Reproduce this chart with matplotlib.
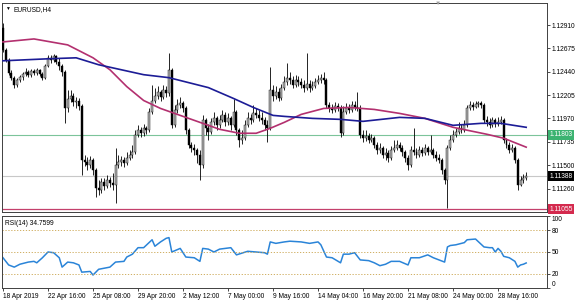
import numpy as np
import matplotlib
matplotlib.use('Agg')
import matplotlib.pyplot as plt
import matplotlib.transforms as mtransforms

# EURUSD H4 bars, 18 Apr 2019 00:00 onwards (open of each bar = previous close)
first_open = 1.1288
close = [1.1266, 1.1256, 1.1243, 1.1238, 1.1231, 1.1236, 1.1239, 1.1242, 1.1244, 1.1241,
         1.1245, 1.1243, 1.1246, 1.1242, 1.1238, 1.1250, 1.1258, 1.1256, 1.1260, 1.1254,
         1.1250, 1.1244, 1.1207, 1.1217, 1.1220, 1.1213, 1.1215, 1.1209, 1.1155, 1.1153,
         1.1150, 1.1155, 1.1145, 1.1127, 1.1125, 1.1133, 1.1129, 1.1135, 1.1132, 1.1130,
         1.1150, 1.1153, 1.1155, 1.1152, 1.1157, 1.1160, 1.1163, 1.1180, 1.1185, 1.1182,
         1.1187, 1.1185, 1.1203, 1.1215, 1.1220, 1.1224, 1.1219, 1.1226, 1.1223, 1.1246,
         1.1190, 1.1205, 1.1210, 1.1212, 1.1207, 1.1185, 1.1170, 1.1167, 1.1165, 1.1160,
         1.1150, 1.1195, 1.1187, 1.1183, 1.1193, 1.1197, 1.1190, 1.1195, 1.1200, 1.1193,
         1.1197, 1.1190, 1.1203, 1.1185, 1.1175, 1.1177, 1.1190, 1.1197, 1.1195, 1.1202,
         1.1200, 1.1197, 1.1195, 1.1190, 1.1187, 1.1226, 1.1220, 1.1224, 1.1218, 1.1228,
         1.1234, 1.1238, 1.1236, 1.1231, 1.1236, 1.1234, 1.1231, 1.1228, 1.1232, 1.1228,
         1.1230, 1.1234, 1.1236, 1.1238, 1.1236, 1.1210, 1.1207, 1.1205, 1.1209, 1.1207,
         1.1182, 1.1203, 1.1207, 1.1205, 1.1210, 1.1208, 1.1207, 1.1180, 1.1177, 1.1179,
         1.1175, 1.1177, 1.1170, 1.1165, 1.1167, 1.1160, 1.1162, 1.1157, 1.1165, 1.1167,
         1.1170, 1.1167, 1.1163, 1.1157, 1.1150, 1.1165, 1.1163, 1.1160, 1.1165, 1.1162,
         1.1167, 1.1163, 1.1165, 1.1160, 1.1157, 1.1155, 1.1145, 1.1135, 1.1167, 1.1175,
         1.1180, 1.1183, 1.1187, 1.1185, 1.1190, 1.1207, 1.1210, 1.1208, 1.1211, 1.1212,
         1.1210, 1.1195, 1.1193, 1.1190, 1.1195, 1.1191, 1.1193, 1.1195, 1.1175, 1.1170,
         1.1165, 1.1167, 1.1155, 1.1130, 1.1135, 1.1137, 1.11388]
high = [1.1293, 1.1268, 1.1258, 1.1246, 1.1240, 1.1238, 1.1241, 1.1244, 1.1248, 1.1246,
        1.1247, 1.1247, 1.1248, 1.1247, 1.1244, 1.1252, 1.1261, 1.1261, 1.1262, 1.1261,
        1.1258, 1.1252, 1.1246, 1.1226, 1.1226, 1.1223, 1.1219, 1.1218, 1.1211, 1.1160,
        1.1158, 1.1159, 1.1157, 1.1147, 1.1135, 1.1137, 1.1137, 1.1140, 1.1138, 1.1142,
        1.1167, 1.1160, 1.1159, 1.1158, 1.1163, 1.1165, 1.1170, 1.1185, 1.1190, 1.1188,
        1.1191, 1.1189, 1.1207, 1.1231, 1.1228, 1.1230, 1.1226, 1.1231, 1.1230, 1.1263,
        1.1248, 1.1210, 1.1217, 1.1219, 1.1215, 1.1209, 1.1187, 1.1173, 1.1171, 1.1167,
        1.1165, 1.1200, 1.1197, 1.1191, 1.1197, 1.1203, 1.1199, 1.1200, 1.1205, 1.1203,
        1.1202, 1.1199, 1.1217, 1.1205, 1.1187, 1.1185, 1.1195, 1.1203, 1.1201, 1.1210,
        1.1207, 1.1205, 1.1203, 1.1198, 1.1195, 1.1249, 1.1231, 1.1230, 1.1228, 1.1232,
        1.1240, 1.1253, 1.1244, 1.1240, 1.1241, 1.1240, 1.1238, 1.1236, 1.1263, 1.1236,
        1.1235, 1.1238, 1.1241, 1.1242, 1.1244, 1.1238, 1.1213, 1.1211, 1.1213, 1.1212,
        1.1210, 1.1209, 1.1212, 1.1211, 1.1215, 1.1215, 1.1224, 1.1210, 1.1185, 1.1185,
        1.1182, 1.1181, 1.1179, 1.1173, 1.1172, 1.1169, 1.1167, 1.1165, 1.1169, 1.1175,
        1.1175, 1.1173, 1.1170, 1.1165, 1.1160, 1.1169, 1.1187, 1.1167, 1.1169, 1.1168,
        1.1171, 1.1169, 1.1180, 1.1167, 1.1164, 1.1161, 1.1157, 1.1147, 1.1170, 1.1180,
        1.1185, 1.1187, 1.1193, 1.1191, 1.1195, 1.1210, 1.1214, 1.1213, 1.1215, 1.1214,
        1.1214, 1.1212, 1.1199, 1.1197, 1.1198, 1.1197, 1.1198, 1.1199, 1.1197, 1.1177,
        1.1173, 1.1171, 1.1169, 1.1157, 1.1139, 1.1141, 1.1143]
low = [1.1264, 1.1254, 1.1241, 1.1236, 1.1228, 1.1229, 1.1234, 1.1236, 1.1240, 1.1239,
       1.1239, 1.1241, 1.1241, 1.1240, 1.1236, 1.1237, 1.1249, 1.1253, 1.1254, 1.1252,
       1.1246, 1.1240, 1.1192, 1.1203, 1.1213, 1.1209, 1.1207, 1.1205, 1.1140, 1.1149,
       1.1145, 1.1147, 1.1140, 1.1118, 1.1120, 1.1122, 1.1125, 1.1127, 1.1128, 1.1125,
       1.1112, 1.1147, 1.1149, 1.1148, 1.1150, 1.1155, 1.1157, 1.1161, 1.1178, 1.1178,
       1.1179, 1.1181, 1.1183, 1.1201, 1.1212, 1.1217, 1.1215, 1.1217, 1.1219, 1.1220,
       1.1187, 1.1188, 1.1202, 1.1207, 1.1203, 1.1181, 1.1167, 1.1163, 1.1160, 1.1152,
       1.1135, 1.1147, 1.1180, 1.1175, 1.1181, 1.1190, 1.1185, 1.1187, 1.1193, 1.1189,
       1.1190, 1.1185, 1.1188, 1.1180, 1.1168, 1.1171, 1.1175, 1.1188, 1.1191, 1.1193,
       1.1197, 1.1194, 1.1191, 1.1185, 1.1173, 1.1185, 1.1215, 1.1217, 1.1215, 1.1216,
       1.1226, 1.1231, 1.1232, 1.1228, 1.1229, 1.1230, 1.1228, 1.1224, 1.1226, 1.1224,
       1.1226, 1.1228, 1.1232, 1.1233, 1.1232, 1.1207, 1.1203, 1.1202, 1.1203, 1.1204,
       1.1178, 1.1180, 1.1201, 1.1202, 1.1203, 1.1205, 1.1204, 1.1177, 1.1173, 1.1174,
       1.1172, 1.1173, 1.1167, 1.1161, 1.1162, 1.1157, 1.1155, 1.1153, 1.1155, 1.1163,
       1.1165, 1.1164, 1.1159, 1.1153, 1.1145, 1.1148, 1.1160, 1.1157, 1.1158, 1.1159,
       1.1160, 1.1160, 1.1161, 1.1157, 1.1154, 1.1152, 1.1141, 1.1131, 1.1107, 1.1165,
       1.1173, 1.1178, 1.1181, 1.1182, 1.1183, 1.1188, 1.1205, 1.1205, 1.1207, 1.1208,
       1.1207, 1.1192, 1.1189, 1.1187, 1.1188, 1.1188, 1.1189, 1.1191, 1.1172, 1.1167,
       1.1162, 1.1163, 1.1152, 1.1125, 1.1129, 1.1132, 1.1135]

# moving averages (bar index, price)
ma_slow_idx = [0, 16, 26, 34, 42, 50, 59, 73, 82, 89, 96, 100, 110, 120, 128, 141, 150, 160, 170, 177, 186]
ma_slow = [1.1255, 1.1257, 1.1258, 1.1251, 1.1246, 1.1241, 1.1238, 1.1228, 1.1217, 1.1208,
           1.1200, 1.1199, 1.1197, 1.1196, 1.1194, 1.1198, 1.1197, 1.1190, 1.1192, 1.1192, 1.1188]
ma_fast_idx = [0, 11, 23, 32, 38, 44, 50, 56, 61, 70, 77, 84, 90, 95, 100, 106, 114, 123, 132,
               141, 150, 160, 172, 178, 186]
ma_fast = [1.1274, 1.1277, 1.1271, 1.1258, 1.1246, 1.1229, 1.1215, 1.1207, 1.1202, 1.1193,
           1.1186, 1.1182, 1.1182, 1.1187, 1.1193, 1.1201, 1.1207, 1.1208, 1.1206, 1.1202,
           1.1197, 1.1188, 1.1181, 1.1177, 1.1168]

# RSI(14)
rsi_idx = [0, 2, 4, 6, 9, 11, 12, 14, 16, 18, 20, 21, 23, 25, 27, 28, 31, 32, 34, 38, 40, 43,
           44, 46, 48, 50, 53, 54, 56, 58, 59, 60, 63, 65, 68, 70, 71, 73, 75, 77, 81, 83, 87,
           90, 93, 94, 95, 97, 100, 102, 106, 109, 112, 113, 115, 117, 120, 121, 123, 125, 127,
           130, 132, 134, 136, 138, 141, 144, 145, 148, 151, 153, 155, 157, 158, 159, 161, 164,
           165, 168, 171, 173, 174, 175, 176, 177, 178, 180, 182, 183, 184, 185, 186]
rsi = [42, 32, 29, 33, 36, 37, 35, 42, 50, 49, 42, 29, 36, 35, 32, 22, 23, 18, 26, 29, 36, 37,
       43, 47, 56, 56, 67, 58, 64, 69, 70, 50, 55, 43, 42, 37, 55, 54, 50, 54, 56, 46, 51,
       50, 49, 47, 64, 62, 64, 65, 64, 62, 64, 60, 43, 42, 35, 47, 47, 49, 39,
       38, 35, 31, 33, 37, 37, 32, 42, 42, 46, 42, 39, 36, 57, 59, 60, 63,
       67, 68, 57, 56, 56, 50, 55, 51, 44, 42, 37, 29, 32, 33, 34.76]

level_green = 1.11803
level_last = 1.11388
level_red = 1.11055
price_ticks = [1.12910, 1.12675, 1.12440, 1.12205, 1.11970, 1.11735, 1.11500, 1.11260]
time_tick_idx = [0, 16, 32, 48, 64, 80, 96, 112, 128, 144, 160, 176]
time_labels = ['18 Apr 2019', '22 Apr 16:00', '25 Apr 08:00', '29 Apr 20:00', '2 May 12:00',
               '7 May 00:00', '9 May 16:00', '14 May 04:00', '16 May 20:00', '21 May 08:00',
               '24 May 00:00', '28 May 16:00']

plt.rcParams['font.family'] = ['Liberation Sans', 'DejaVu Sans']
fs = 4.8

fig = plt.figure(figsize=(5.8, 3.02), dpi=100)
ax = fig.add_axes([2 / 580, 1 - 212 / 302, 545 / 580, 209 / 302])
ax2 = fig.add_axes([2 / 580, 1 - 288 / 302, 545 / 580, 72 / 302])

n = len(close)
idx = np.arange(n)
c = np.array(close)
o = np.array([first_open] + close[:-1])
up = c >= o

# candles
ax.vlines(idx, low, high, color='black', lw=0.6, zorder=3)
body_lo = np.minimum(o, c)
body_h = np.maximum(np.abs(c - o), 0.00004)
ax.bar(idx[up], body_h[up], bottom=body_lo[up], width=0.7, color='#b4b4b4',
       edgecolor='black', linewidth=0.3, zorder=4)
ax.bar(idx[~up], body_h[~up], bottom=body_lo[~up], width=0.7, color='black',
       edgecolor='black', linewidth=0.3, zorder=4)

ax.plot(ma_fast_idx, ma_fast, color='#b3306f', lw=1.2, zorder=5)
ax.plot(ma_slow_idx, ma_slow, color='#1c1c96', lw=1.2, zorder=5)

ax.axhline(level_green, color='#7cc49a', lw=0.8, zorder=2)
ax.axhline(level_last, color='#c8c8c8', lw=0.8, zorder=2)
ax.axhline(level_red, color='#c4406c', lw=0.9, zorder=2)

ax.set_xlim(-0.36, 193.4)
ax.set_ylim(1.11027, 1.13132)
ax.yaxis.tick_right()
ax.set_yticks(price_ticks)
ax.set_yticklabels(['%.5f' % p for p in price_ticks], fontsize=fs)
ax.set_xticks([])
ax.tick_params(axis='y', length=2, width=0.5, pad=1.5, colors='black')

trans = mtransforms.blended_transform_factory(ax.transAxes, ax.transData)
for lvl, bg in [(level_green, '#3cb371'), (level_last, 'black'), (level_red, '#d42a4e')]:
    ax.text(1.004, lvl, '%.5f' % lvl, transform=trans, fontsize=fs, color='white',
            va='center', ha='left', zorder=10,
            bbox=dict(boxstyle='square,pad=0.25', fc=bg, ec='none'))

ax.text(0.006, 0.985, '\u25bc', transform=ax.transAxes, fontsize=3.5, va='top', ha='left')
ax.text(0.022, 0.985, 'EURUSD,H4', transform=ax.transAxes, fontsize=fs, va='top', ha='left')
ax.text(0.8, 1.0, '\u25bc', transform=ax.transAxes, fontsize=4.5, color='#a0a0a0',
        va='center', ha='center')

# RSI panel
ax2.plot(rsi_idx, rsi, color='#2a84d8', lw=1.1)
for lv in (80, 50, 20):
    ax2.axhline(lv, color='#c9a24a', lw=0.6, dashes=(1.5, 2))
ax2.set_xlim(-0.36, 193.4)
ax2.set_ylim(0, 100)
ax2.yaxis.tick_right()
ax2.set_yticks([100, 80, 50, 20, 0])
ylabs = ax2.set_yticklabels(['100', '80', '50', '20', '0'], fontsize=fs)
ylabs[0].set_va('top')
ylabs[-1].set_va('bottom')
ax2.tick_params(axis='y', length=2, width=0.5, pad=1.5)
ax2.set_xticks(time_tick_idx)
xlabs = ax2.set_xticklabels(time_labels, fontsize=fs)
for t in xlabs:
    t.set_ha('left')
ax2.tick_params(axis='x', length=2, width=0.5, pad=1.5)
ax2.text(0.006, 0.95, 'RSI(14) 34.7599', transform=ax2.transAxes, fontsize=fs,
         va='top', ha='left')

for a in (ax, ax2):
    for s in a.spines.values():
        s.set_linewidth(0.7)
        s.set_color('#404040')

fig.savefig('out.png', dpi=100)
